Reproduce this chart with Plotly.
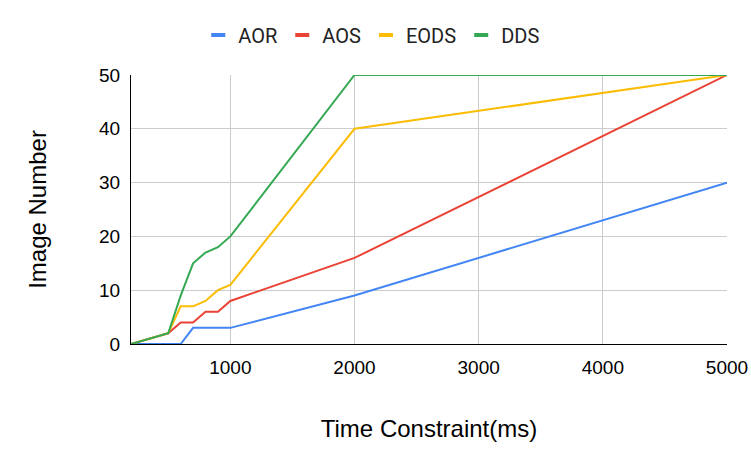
import plotly.graph_objects as go

time_ms = [200, 500, 600, 700, 800, 900, 1000, 2000, 5000]
aor = [0, 0, 0, 3, 3, 3, 3, 9, 30]
aos = [0, 2, 4, 4, 6, 6, 8, 16, 50]
eods = [0, 2, 7, 7, 8, 10, 11, 40, 50]
dds = [0, 2, 9, 15, 17, 18, 20, 50, 50]

series = [("AOR", aor, "#4285F4"), ("AOS", aos, "#EA4335"),
          ("EODS", eods, "#FBBC04"), ("DDS", dds, "#34A853")]

fig = go.Figure()
for name, vals, col in series:
    fig.add_trace(go.Scatter(x=time_ms, y=vals, name=name, mode="lines",
                             line=dict(color=col, width=2), showlegend=False))
# short dash legend keys like the original
for name, vals, col in series:
    fig.add_trace(go.Scatter(x=[None], y=[None], name=name, mode="markers",
                             marker=dict(symbol="line-ew", size=10,
                                         line=dict(color=col, width=4))))

fig.update_layout(
    width=751, height=466,
    template="plotly_white",
    font=dict(family="Arial, Liberation Sans", size=19, color="#000000"),
    margin=dict(l=131, r=24, t=75, b=122, autoexpand=False),
    legend=dict(orientation="h", xref="container", yref="container",
                x=0.495, xanchor="center", y=0.925, yanchor="middle",
                font=dict(family="Roboto", size=20, color="#222222"),
                itemwidth=30, tracegroupgap=0),
    plot_bgcolor="white",
)
fig.update_xaxes(
    range=[200, 5000], tickvals=[1000, 2000, 3000, 4000, 5000],
    showgrid=True, gridcolor="#cccccc", zeroline=False,
    showline=True, linecolor="#000000", linewidth=1,
    title=dict(text="Time Constraint(ms)", font=dict(size=24), standoff=43),
    ticks="", tickfont=dict(size=19), ticklabelstandoff=6, automargin=False,
)
fig.update_yaxes(
    range=[0, 50], tickvals=[0, 10, 20, 30, 40, 50],
    showgrid=True, gridcolor="#cccccc", zeroline=False,
    showline=True, linecolor="#000000", linewidth=1,
    title=dict(text="Image Number", font=dict(size=24), standoff=45),
    ticks="", tickfont=dict(size=19), ticklabelstandoff=6, automargin=False,
)

# drop the browser's default body margin so the figure fills the window
fig.write_html("out.html", config={"displayModeBar": False},
               post_script="document.body.style.margin = '0';")
